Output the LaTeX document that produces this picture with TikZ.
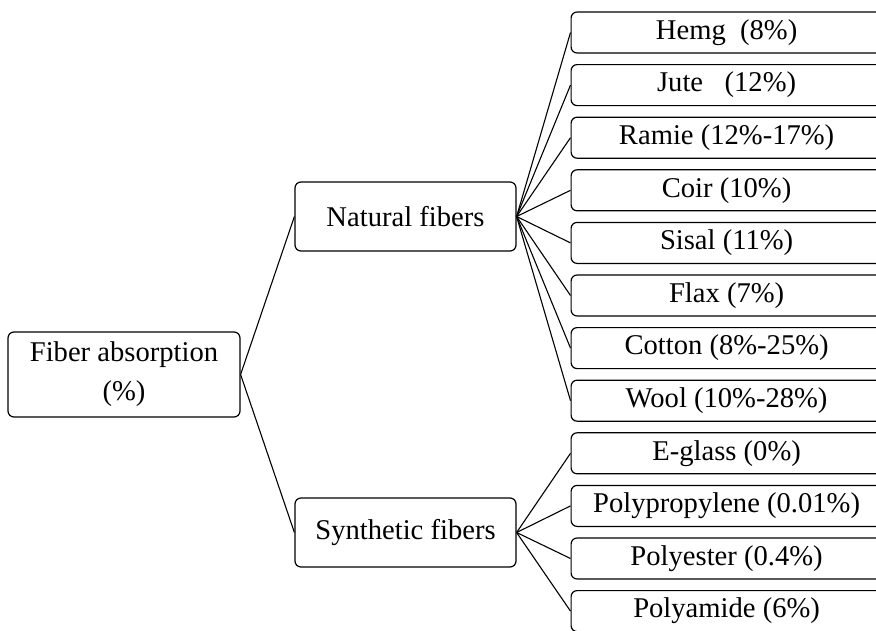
\documentclass[tikz,border=0pt]{standalone}
\usepackage{fontspec}
\setmainfont{Liberation Serif}
\begin{document}
\begin{tikzpicture}[x=1pt,y=-1pt,
  basebox/.style={draw=black, line width=1.2pt, rounded corners=6pt, inner sep=0pt, align=center, font=\fontsize{28.6}{39}\selectfont},
  rootbox/.style={basebox, minimum width=232pt, minimum height=85pt},
  midbox/.style={basebox, minimum width=221pt, minimum height=69pt},
  leafbox/.style={basebox, minimum width=311pt, minimum height=41pt, anchor=west},
  conn/.style={draw=black, line width=1.1pt}]
\useasboundingbox (0,0) rectangle (876,630);
\clip (0,0) rectangle (876,630);
\node[rootbox] (root) at (124,374.5) {Fiber absorption\\(\%)};
\node[midbox] (nat) at (405.5,216.5) {Natural fibers};
\node[midbox] (syn) at (405.5,532.5) {Synthetic fibers};
\node[leafbox] (l1) at (570.5,32.5) {Hemg\ \ (8\%)};
\node[leafbox] (l2) at (570.5,85.1) {Jute\ \ \ (12\%)};
\node[leafbox] (l3) at (570.5,137.7) {Ramie (12\%-17\%)};
\node[leafbox] (l4) at (570.5,190.3) {Coir (10\%)};
\node[leafbox] (l5) at (570.5,242.9) {Sisal (11\%)};
\node[leafbox] (l6) at (570.5,295.5) {Flax (7\%)};
\node[leafbox] (l7) at (570.5,348.1) {Cotton (8\%-25\%)};
\node[leafbox] (l8) at (570.5,400.7) {Wool (10\%-28\%)};
\node[leafbox] (l9) at (570.5,453.3) {E-glass (0\%)};
\node[leafbox] (l10) at (570.5,505.9) {Polypropylene (0.01\%)};
\node[leafbox] (l11) at (570.5,558.5) {Polyester (0.4\%)};
\node[leafbox] (l12) at (570.5,611.1) {Polyamide (6\%)};
\draw[conn] (root.east) -- (nat.west);
\draw[conn] (root.east) -- (syn.west);
\foreach \i in {1,...,8} {\draw[conn] (nat.east) -- (l\i.west);}
\foreach \i in {9,...,12} {\draw[conn] (syn.east) -- (l\i.west);}
\end{tikzpicture}
\end{document}
